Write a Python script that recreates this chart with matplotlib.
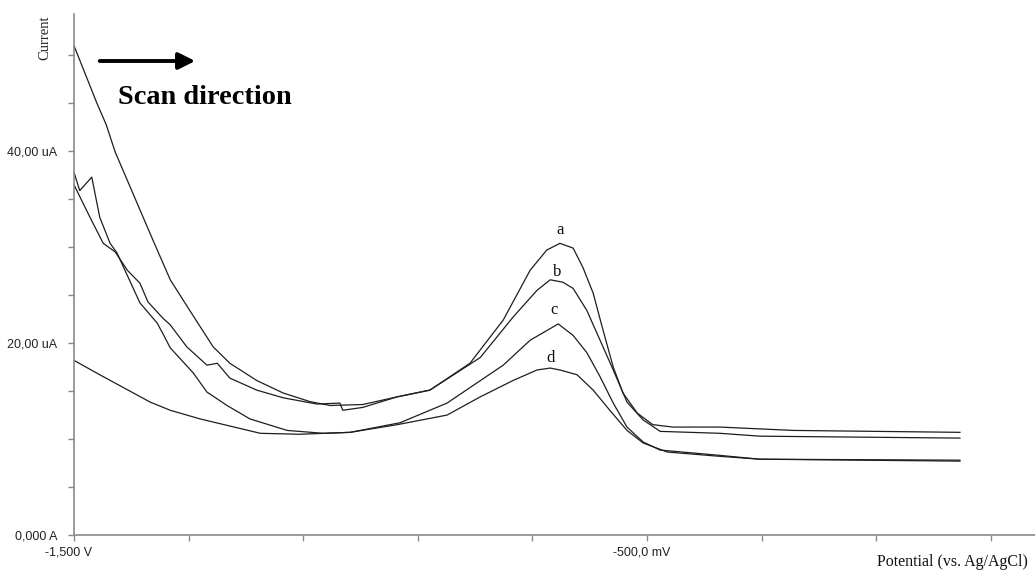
import matplotlib
matplotlib.use('Agg')
import matplotlib.pyplot as plt
from matplotlib.transforms import ScaledTranslation

# potential (mV) and current (uA)
a_x = [-1500, -1460, -1444, -1428, -1390, -1362, -1332, -1298, -1257, -1228, -1181, -1135,
       -1088, -1053, -996, -936, -879, -809, -751, -704, -675, -652, -629, -612, -594,
       -577, -559, -542, -517, -490, -455, -373, -245, 46]
a_y = [51.0, 45.0, 42.8, 39.9, 34.6, 30.7, 26.6, 23.4, 19.6, 17.9, 16.1, 14.8,
       13.9, 13.5, 13.6, 14.4, 15.1, 17.9, 22.4, 27.6, 29.7, 30.4, 29.9, 27.9, 25.2,
       21.4, 17.5, 14.8, 12.7, 11.5, 11.25, 11.25, 10.9, 10.7]

b_x = [-1500, -1472, -1449, -1428, -1407, -1385, -1371, -1345, -1332, -1303, -1268, -1250,
       -1228, -1181, -1135, -1076, -1036, -1031, -996, -936, -879, -791, -734, -692,
       -669, -647, -629, -605, -582, -559, -535, -507, -477, -373, -303, 46]
b_y = [36.5, 33.1, 30.4, 29.5, 27.6, 26.25, 24.3, 22.6, 21.9, 19.6, 17.7, 17.9,
       16.35, 15.1, 14.3, 13.65, 13.75, 13.0, 13.3, 14.4, 15.1, 18.5, 22.7, 25.5,
       26.6, 26.35, 25.7, 23.4, 20.3, 17.2, 13.85, 12.0, 10.8, 10.6, 10.3, 10.1]

c_x = [-1500, -1490, -1469, -1455, -1437, -1425, -1385, -1355, -1345, -1332, -1292, -1268,
       -1233, -1193, -1128, -1065, -1018, -931, -849, -751, -704, -655, -629, -605,
       -582, -559, -535, -507, -477, -373, -303, 46]
c_y = [37.8, 35.9, 37.3, 33.1, 30.4, 29.4, 24.2, 22.1, 21.0, 19.5, 16.9, 14.9,
       13.5, 12.1, 10.9, 10.6, 10.7, 11.7, 13.75, 17.7, 20.3, 22.0, 20.8, 19.0,
       16.5, 13.75, 11.25, 9.7, 8.85, 8.3, 7.9, 7.7]

d_x = [-1500, -1455, -1367, -1332, -1280, -1175, -1106, -1018, -936, -849, -791, -734,
       -692, -669, -652, -622, -594, -565, -535, -507, -465, -373, -303, 46]
d_y = [18.2, 16.7, 13.85, 13.0, 12.1, 10.6, 10.5, 10.7, 11.5, 12.5, 14.4, 16.1,
       17.2, 17.4, 17.2, 16.7, 15.1, 13.0, 10.9, 9.6, 8.65, 8.2, 7.9, 7.8]

x_ticks = [-1500, -1300, -1100, -900, -700, -500, -300, -100, 100]
x_labels = ['-1,500 V', '', '', '', '', '-500,0 mV', '', '', '']
y_ticks = [0, 5, 10, 15, 20, 25, 30, 35, 40, 45, 50]
y_labels = ['0,000 A', '', '', '', '20,00 uA', '', '', '', '40,00 uA', '', '']

curve_labels = ['a', 'b', 'c', 'd']
label_pos = [(-652, 31.8), (-657, 27.4), (-662, 23.4), (-669, 18.5)]


def main():
    fig = plt.figure(figsize=(10.35, 5.70), dpi=100)
    ax = fig.add_axes([0.0715, 0.0614, 0.9285, 0.914])

    for xs, ys in [(a_x, a_y), (b_x, b_y), (c_x, c_y), (d_x, d_y)]:
        ax.plot(xs, ys, color='#1e1e1e', lw=0.9)

    ax.set_xlim(-1500, 177)
    ax.set_ylim(0, 54.3)

    for s in ['top', 'right']:
        ax.spines[s].set_visible(False)
    for s in ['left', 'bottom']:
        ax.spines[s].set_color('#8a8a8a')
        ax.spines[s].set_linewidth(1.2)

    ax.set_xticks(x_ticks)
    ax.set_xticklabels(x_labels)
    ax.set_yticks(y_ticks)
    ax.set_yticklabels(y_labels)
    ax.tick_params(axis='both', colors='#8a8a8a', length=4, width=1,
                   labelcolor='#222222', labelsize=9)
    ax.tick_params(axis='x', pad=4)
    ax.tick_params(axis='y', pad=8)
    shift = ScaledTranslation(-5 / 100, 0, fig.dpi_scale_trans)
    for lbl in ax.get_xticklabels():
        lbl.set_family('Liberation Sans')
        lbl.set_transform(lbl.get_transform() + shift)
    for lbl in ax.get_yticklabels():
        lbl.set_family('Liberation Sans')

    for t, (px, py) in zip(curve_labels, label_pos):
        ax.text(px, py, t, ha='center', va='center', fontsize=12,
                family='Liberation Serif', color='#111111')

    fig.text(45 / 1035, 1 - 38 / 570, 'Current', rotation=90, ha='center', va='center',
             fontsize=10.5, family='Liberation Serif', color='#222222')
    fig.text(1028 / 1035, 1 - 562 / 570, 'Potential (vs. Ag/AgCl)', ha='right', va='center',
             fontsize=11.5, family='Liberation Serif', color='#111111')

    # scan direction arrow
    fig.patches.append(matplotlib.patches.FancyArrowPatch(
        (97 / 1035, 1 - 61 / 570), (198 / 1035, 1 - 61 / 570),
        transform=fig.transFigure, arrowstyle='-|>,head_length=10,head_width=5',
        mutation_scale=1, color='black', lw=2.8))
    fig.text(118 / 1035, 1 - 98 / 570, 'Scan direction', ha='left', va='center',
             fontsize=20.4, fontweight='bold', family='Liberation Serif', color='black')

    plt.savefig('out.png', dpi=100)
    plt.close()


if __name__ == "__main__":
    main()
